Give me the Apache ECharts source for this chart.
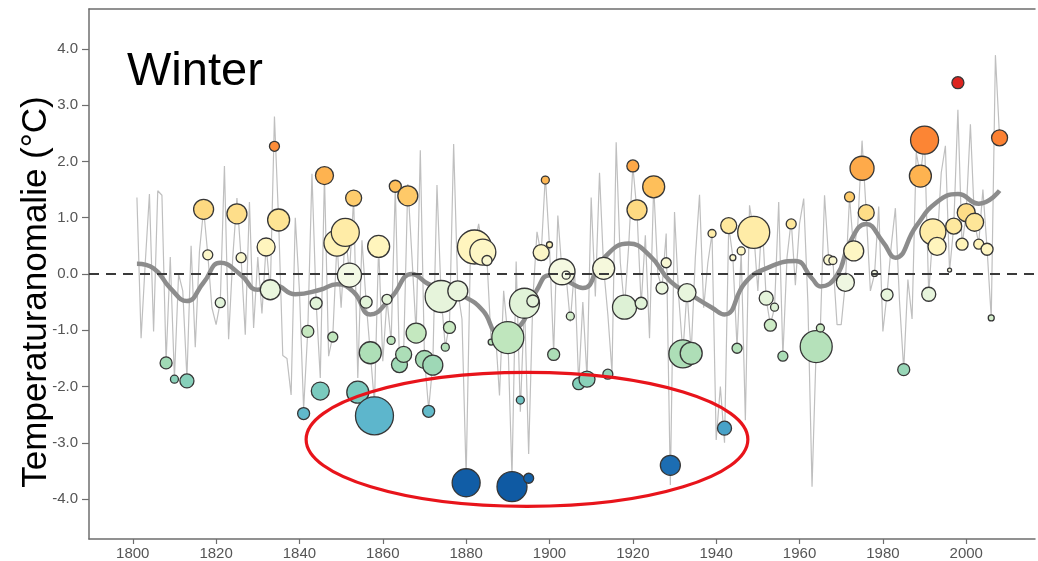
<!DOCTYPE html>
<html><head><meta charset="utf-8">
<script src="https://cdn.jsdelivr.net/npm/echarts@6/dist/echarts.min.js"></script>
<style>html,body{margin:0;padding:0;background:#fff}#c{width:1038px;height:561px}</style>
</head><body><div id="c"></div>
<script>
// ---- data ----
const firstYear = 1801;
const annualValues = [
 1.36,-1.14,0.20,1.42,-1.02,1.48,1.40,-1.55,0.30,-1.85,
 0.00,-0.30,-1.85,0.50,-1.30,0.40,1.15,0.35,-0.60,-0.90,
 -0.50,1.92,-1.16,0.30,1.35,0.28,-1.08,1.28,-0.96,0.30,
 -0.70,0.50,-0.30,2.80,0.95,-1.45,-1.50,-2.15,1.00,-0.30,
 -2.40,-1.00,1.78,-0.50,-1.85,1.75,-1.46,-1.10,0.55,-0.60,
 0.75,0.00,1.35,-1.85,0.60,-0.50,-1.40,-2.30,0.50,-1.55,
 -0.45,-1.20,1.55,-1.60,-1.40,1.60,0.30,-1.05,2.20,-1.50,
 -2.40,-1.60,1.58,-0.40,-1.30,-0.90,2.31,-0.30,-0.80,-3.60,
 0.30,0.50,0.89,0.40,0.25,-1.20,-1.00,-2.16,-0.30,-1.10,
 -3.60,0.22,-2.45,-0.50,-3.20,-0.45,0.75,0.35,1.75,0.50,
 -1.40,1.04,0.05,-0.05,-0.85,0.10,-1.95,-0.50,-1.85,1.36,
 -0.40,1.80,0.10,-0.72,-1.75,2.34,0.20,-0.60,0.50,1.92,
 1.10,-0.55,0.69,-1.14,1.57,0.00,-0.25,0.72,-3.75,1.10,
 -0.40,-1.40,-0.30,-1.40,0.30,1.41,-0.60,0.20,0.72,-2.95,
 -2.00,-3.00,0.85,0.30,-1.30,0.40,-2.60,1.22,0.75,-0.30,
 1.00,-0.45,-0.90,-0.60,1.28,-1.46,0.30,0.95,-0.20,0.90,
 1.34,-0.50,-3.78,-1.30,-0.95,1.40,0.25,0.25,-0.90,-0.90,
 -0.15,1.37,0.40,0.90,2.37,1.10,-0.30,0.00,1.20,-1.02,
 -0.35,0.50,1.17,-0.50,-1.70,-0.10,-0.80,2.16,1.75,2.38,
 -0.35,0.75,0.50,1.80,2.28,0.05,0.85,2.92,0.50,1.10,
 2.66,0.90,0.55,1.50,0.45,-0.78,3.89,2.42
];
const smoothYears  = [1801,1805,1809,1813,1817,1821,1826,1830,1834,1839,1845,1849,1853,1857,1862,1867,1871,1876,1880,1884,1888,1892,1897,1900,1904,1908,1913,1919,1924,1929,1934,1939,1942,1947,1952,1959,1963,1965,1969,1972,1976,1980,1983,1988,1993,1998,2003,2008];
const smoothValues = [0.18,0.10,-0.25,-0.48,-0.15,0.20,-0.02,-0.28,-0.20,-0.36,-0.28,-0.18,-0.32,-0.72,-0.42,0.00,-0.18,-0.33,-0.42,-0.65,-1.05,-0.98,-0.28,-0.02,-0.12,-0.25,0.28,0.54,0.33,-0.13,-0.37,-0.60,-0.72,-0.15,0.10,0.23,-0.08,-0.22,-0.02,0.55,0.89,0.57,0.29,0.85,1.28,1.42,1.25,1.48];
const bubbleYears = [1808,1810,1813,1817,1818,1821,1825,1826,1832,1833,1834,1835,1841,1842,1844,1845,1846,1848,1849,1851,1852,1853,1854,1856,1857,1858,1859,1861,1862,1863,1864,1865,1866,1868,1870,1871,1872,1874,1875,1876,1878,1880,1882,1884,1885,1886,1890,1891,1893,1894,1895,1896,1898,1899,1900,1901,1903,1904,1905,1907,1909,1913,1914,1918,1920,1921,1922,1925,1927,1928,1929,1932,1933,1934,1939,1942,1943,1944,1945,1946,1949,1952,1953,1954,1956,1958,1964,1965,1967,1968,1971,1972,1973,1975,1976,1978,1981,1985,1989,1990,1991,1992,1993,1996,1997,1998,1999,2000,2002,2003,2005,2006,2008];
const bubbleValues = [-1.58,-1.87,-1.90,1.15,0.34,-0.51,1.07,0.29,0.48,-0.28,2.27,0.96,-2.48,-1.02,-0.52,-2.08,1.75,-1.12,0.55,0.74,-0.02,1.35,-2.10,-0.50,-1.40,-2.52,0.49,-0.45,-1.18,1.56,-1.61,-1.43,1.39,-1.05,-1.52,-2.44,-1.62,-0.40,-1.30,-0.95,-0.30,-3.71,0.48,0.39,0.24,-1.21,-1.13,-3.78,-2.24,-0.52,-3.63,-0.48,0.38,1.67,0.52,-1.43,0.04,-0.02,-0.75,-1.95,-1.87,0.10,-1.78,-0.59,1.92,1.14,-0.52,1.55,-0.25,0.20,-3.40,-1.42,-0.33,-1.41,0.72,-2.74,0.86,0.29,-1.32,0.41,0.74,-0.43,-0.91,-0.59,-1.46,0.89,-1.29,-0.96,0.25,0.24,-0.15,1.37,0.41,1.88,1.09,0.01,-0.37,-1.70,1.74,2.38,-0.36,0.75,0.49,0.07,0.85,3.40,0.53,1.09,0.92,0.53,0.44,-0.78,2.42];
const bubbleWeights = [6,4,7,10,5,5,10,5,9,10,5,11,6,6,6,9,9,5,13,14,12,8,11,6,11,19,11,5,4,6,8,8,10,10,9,6,10,16,4,6,10,14,17,13,5,3,16,15,4,15,5,6,8,4,3,6,13,4,4,6,8,11,5,12,6,10,6,11,6,5,10,14,9,11,4,7,8,3,5,4,16,7,6,4,5,5,16,4,5,4,9,5,10,12,8,3,6,6,11,14,7,13,9,2,8,6,6,9,9,5,6,3,8];
const xTickLabels = [1800,1820,1840,1860,1880,1900,1920,1940,1960,1980,2000];
const yTickLabels = [-4,-3,-2,-1,0,1,2,3,4];
const titleText = 'Winter';
const yAxisTitle = 'Temperaturanomalie (°C)';
// annotation ellipse (data units): centre and half-axes
const ellipseCentre = [1894.6, -2.94];
const ellipseHalfAxes = [53, 1.19];

// ---- build ----
const annual = annualValues.map((v, i) => [firstYear + i, v]);
const smooth = smoothYears.map((y, i) => [y, smoothValues[i]]);
const bubbles = bubbleYears.map((y, i) => [y, bubbleValues[i], bubbleWeights[i]]);
const FONT = '"Liberation Sans", Arial, sans-serif';
const axisColor = '#6e6e6e';

const chart = echarts.init(document.getElementById('c'), null, {renderer: 'canvas'});
const option = {
  animation: false,
  backgroundColor: '#fff',
  grid: {left: 89, right: 3, top: 9, bottom: 19},
  xAxis: [{
    type: 'value', min: 1789.5, max: 2016.5,
    axisLine: {show: true, onZero: false, lineStyle: {color: axisColor, width: 1.5}},
    axisTick: {show: true, customValues: xTickLabels, length: 5, lineStyle: {color: axisColor, width: 1.2}},
    axisLabel: {customValues: xTickLabels, formatter: v => String(Math.round(v)), color: '#555', fontSize: 15, fontFamily: FONT, margin: 7},
    splitLine: {show: false}
  }, {
    type: 'value', position: 'top', min: 1789.5, max: 2016.5,
    axisLine: {show: true, onZero: false, lineStyle: {color: axisColor, width: 1.5}},
    axisTick: {show: false}, axisLabel: {show: false}, splitLine: {show: false}
  }],
  yAxis: {
    type: 'value', min: -4.71, max: 4.71,
    axisLine: {show: true, onZero: false, lineStyle: {color: axisColor, width: 1.5}},
    axisTick: {show: true, customValues: yTickLabels, length: 7, lineStyle: {color: axisColor, width: 1.2}},
    axisLabel: {customValues: yTickLabels, formatter: v => Number(v).toFixed(1), color: '#555', fontSize: 15, fontFamily: FONT, margin: 11},
    splitLine: {show: false}
  },
  visualMap: {
    show: false, type: 'continuous', min: -4, max: 3.5, dimension: 1, seriesIndex: 2,
    inRange: {color: ['#08519c','#1766ad','#2f8ac4','#5fb8cc','#7fcdbb','#a8dcb5','#c7e9c0','#e2f3d9','#f4f9e4','#fff5bc','#fee391','#fec25c','#fea344','#fc7b2f','#f0512a','#d7191c']}
  },
  series: [{
    type: 'line', data: annual, symbol: 'none', z: 1,
    lineStyle: {color: '#bfbfbf', width: 1.2}
  }, {
    type: 'line', data: smooth, smooth: 0.5, symbol: 'none', z: 2,
    lineStyle: {color: '#8c8c8c', width: 4.5},
    markLine: {
      silent: true, symbol: 'none', label: {show: false},
      lineStyle: {type: [10, 7], color: '#3a3a3a', width: 2},
      data: [{yAxis: 0}]
    }
  }, {
    type: 'scatter', data: bubbles, z: 3,
    symbolSize: d => d[2] * 2,
    itemStyle: {borderColor: '#363636', borderWidth: 1.3, opacity: 1}
  }]
};
chart.setOption(option);

const c = chart.convertToPixel({gridIndex: 0}, ellipseCentre);
const e = chart.convertToPixel({gridIndex: 0}, [ellipseCentre[0] + ellipseHalfAxes[0], ellipseCentre[1] + ellipseHalfAxes[1]]);
chart.setOption({
  graphic: [{
    type: 'ellipse', z: 10,
    shape: {cx: c[0], cy: c[1], rx: Math.abs(e[0] - c[0]), ry: Math.abs(e[1] - c[1])},
    style: {fill: 'none', stroke: '#e8141b', lineWidth: 3.2}
  }, {
    type: 'text', z: 10, x: 127, y: 72,
    style: {text: titleText, fontSize: 47, fontFamily: FONT, fill: '#000', textAlign: 'left', textVerticalAlign: 'middle'}
  }, {
    type: 'text', z: 10, x: 36, y: 292, rotation: Math.PI / 2,
    style: {text: yAxisTitle, fontSize: 35, fontFamily: FONT, fill: '#000', textAlign: 'center', textVerticalAlign: 'middle'}
  }]
});
</script>
</body></html>
